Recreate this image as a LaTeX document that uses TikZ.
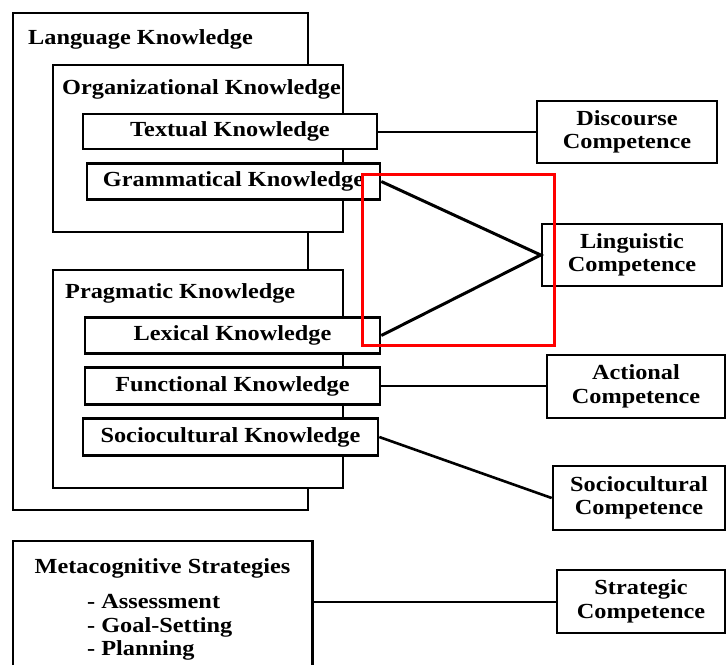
\documentclass[tikz,border=0pt]{standalone}
\usepackage{fontspec}
\setmainfont{Liberation Serif}[FakeStretch=1.13]

\begin{document}
\begin{tikzpicture}[x=1pt, y=-1pt, font=\fontsize{21.5}{23.5}\selectfont\bfseries,
		box/.style={shape=rectangle, draw, line width=2.6pt, fill=white, inner sep=0pt},
		link/.style={line width=2pt}]
			\useasboundingbox (0, 0) rectangle (727, 665);
			\node[box, minimum width=295pt, minimum height=497pt](LK) at (160.5, 261.5){};
			\node[anchor=base west, inner sep=0pt](LKt) at (28, 44){Language Knowledge};
			\node[box, minimum width=290pt, minimum height=167pt](OK) at (198, 148.5){};
			\node[anchor=base west, inner sep=0pt](OKt) at (62, 94){Organizational Knowledge};
			\node[box, minimum width=290pt, minimum height=218pt](PK) at (198, 379){};
			\node[anchor=base west, inner sep=0pt](PKt) at (65, 298){Pragmatic Knowledge};
			\node[box, minimum width=294pt, minimum height=35pt](TK) at (230, 131.5){Textual Knowledge};
			\node[box, minimum width=293pt, minimum height=36pt](GK) at (233.5, 181.5){Grammatical Knowledge};
			\node[box, minimum width=295pt, minimum height=36pt](XK) at (232.5, 335.5){Lexical Knowledge};
			\node[box, minimum width=295pt, minimum height=37pt](FK) at (232.5, 386){Functional Knowledge};
			\node[box, minimum width=295pt, minimum height=37pt](SK) at (230.5, 437){Sociocultural Knowledge};
			\node[shape=rectangle, minimum width=299pt, minimum height=124pt](MS) at (162.5, 603){};
			\draw[line width=2.6pt] (MS.south west) -- (MS.north west) -- (MS.north east) -- (MS.south east);
			\node[anchor=base](MSt) at (162.5, 573){Metacognitive Strategies};
			\node[anchor=base west, inner sep=0pt](M1) at (87, 608){- Assessment};
			\node[anchor=base west, inner sep=0pt](M2) at (87, 632){- Goal-Setting};
			\node[anchor=base west, inner sep=0pt](M3) at (87, 655){- Planning};
			\node[box, align=center, minimum width=180pt, minimum height=62pt](DC) at (627, 132){Discourse\\Competence};
			\node[box, align=center, minimum width=180pt, minimum height=62pt](LC) at (632, 255){Linguistic\\Competence};
			\node[box, align=center, minimum width=178pt, minimum height=63pt](AC) at (636, 386.5){Actional\\Competence};
			\node[box, align=center, minimum width=172pt, minimum height=64pt](SC) at (639, 498){Sociocultural\\Competence};
			\node[box, align=center, minimum width=168pt, minimum height=63pt](SG) at (641, 601.5){Strategic\\Competence};
			\draw[link] (TK.east) -- (TK.east -| DC.west);
			\draw[link, line width=3pt] (GK.east) -- (LC.west) -- (XK.east);
			\draw[link] (FK.east) -- (FK.east -| AC.west);
			\draw[link, line width=2.6pt] (SK.east) -- (SC.west);
			\draw[link] (SG.west -| MS.east) -- (SG.west);
			\draw[red, line width=3pt] (362, 174) rectangle (554, 345);
		\end{tikzpicture}
\end{document}
